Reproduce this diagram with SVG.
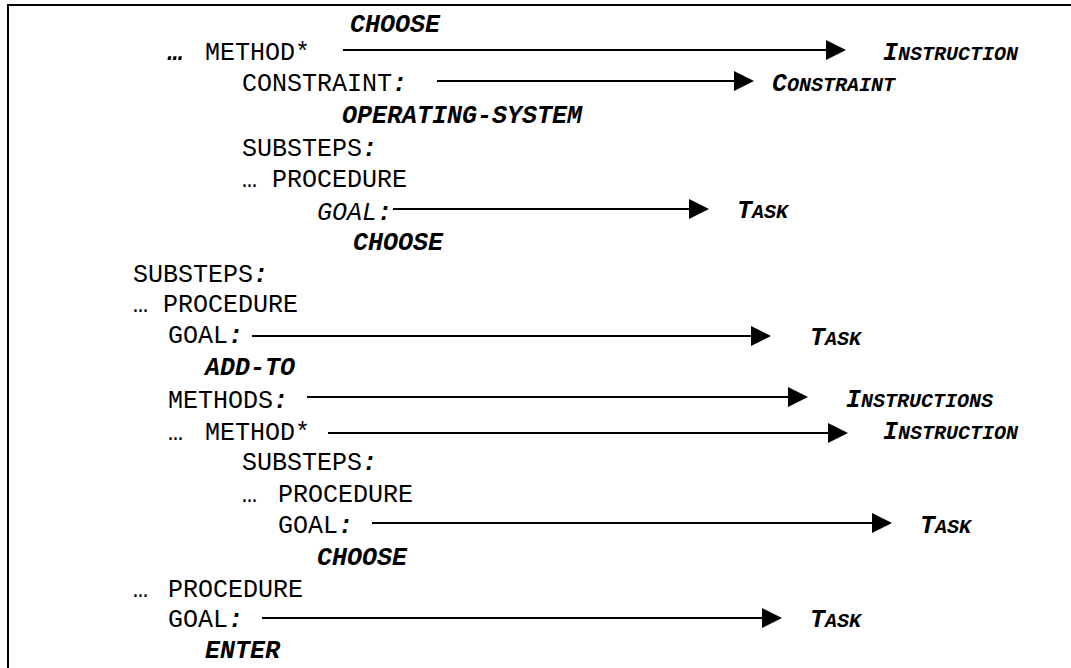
<svg xmlns="http://www.w3.org/2000/svg" width="1071" height="668" viewBox="0 0 1071 668">
<style>
text{font-family:"Liberation Mono","Courier New",monospace;font-size:25px;fill:#000}
.k{font-weight:bold;font-style:italic}
.i{font-style:italic}
.c{font-weight:bold;font-style:italic}
.sc{font-size:20px}
.ln{stroke:#000;stroke-width:2;fill:none}
</style>
<defs>
<marker id="ah" markerUnits="userSpaceOnUse" markerWidth="20" markerHeight="20" refX="0" refY="10" orient="auto" overflow="visible">
<path d="M0,0 L20,10 L0,20 Z" fill="#000"/>
</marker>
</defs>
<rect width="1071" height="668" fill="#fff"/>
<path d="M8,668 L8,5 L1071,5" class="ln" stroke-width="2.5"/>
<g id="r1"><text class="k" x="350" y="32">CHOOSE</text></g>
<g id="r2"><text class="k" x="168" y="60">…</text><text x="205" y="60">METHOD*</text></g>
<g id="r3"><text x="242" y="91">CONSTRAINT<tspan class="c">:</tspan></text></g>
<g id="r4"><text class="k" x="342" y="123">OPERATING-SYSTEM</text></g>
<g id="r5"><text x="242" y="156">SUBSTEPS<tspan class="c">:</tspan></text></g>
<g id="r6"><text x="242" y="187">… PROCEDURE</text></g>
<g id="r7"><text class="i" x="317" y="220">GOAL<tspan class="c">:</tspan></text></g>
<g id="r8"><text class="k" x="353" y="250">CHOOSE</text></g>
<g id="r9"><text x="133" y="282">SUBSTEPS<tspan class="c">:</tspan></text></g>
<g id="r10"><text x="133" y="312">… PROCEDURE</text></g>
<g id="r11"><text x="168" y="343">GOAL<tspan class="c">:</tspan></text></g>
<g id="r12"><text class="k" x="205" y="375">ADD-TO</text></g>
<g id="r13"><text x="168" y="408">METHODS<tspan class="c">:</tspan></text></g>
<g id="r14"><text x="168" y="440">…</text><text x="205" y="440">METHOD*</text></g>
<g id="r15"><text x="242" y="470">SUBSTEPS<tspan class="c">:</tspan></text></g>
<g id="r16"><text x="242" y="502">…</text><text x="278" y="502">PROCEDURE</text></g>
<g id="r17"><text x="278" y="533">GOAL<tspan class="c">:</tspan></text></g>
<g id="r18"><text class="k" x="317" y="565">CHOOSE</text></g>
<g id="r19"><text x="133" y="597">…</text><text x="168" y="597">PROCEDURE</text></g>
<g id="r20"><text x="168" y="627">GOAL<tspan class="c">:</tspan></text></g>
<g id="r21"><text class="k" x="205" y="658">ENTER</text></g>
<g id="l1"><text class="k" x="883" y="60">I<tspan class="sc">NSTRUCTION</tspan></text></g>
<g id="l2"><text class="k" x="772" y="91">C<tspan class="sc">ONSTRAINT</tspan></text></g>
<g id="l3"><text class="k" x="737" y="218">T<tspan class="sc">ASK</tspan></text></g>
<g id="l4"><text class="k" x="810" y="345">T<tspan class="sc">ASK</tspan></text></g>
<g id="l5"><text class="k" x="846" y="407">I<tspan class="sc">NSTRUCTIONS</tspan></text></g>
<g id="l6"><text class="k" x="883" y="439">I<tspan class="sc">NSTRUCTION</tspan></text></g>
<g id="l7"><text class="k" x="920" y="533">T<tspan class="sc">ASK</tspan></text></g>
<g id="l8"><text class="k" x="810" y="627">T<tspan class="sc">ASK</tspan></text></g>
<g id="connectors">
<line class="ln" x1="343" y1="50" x2="826" y2="50" marker-end="url(#ah)"/>
<line class="ln" x1="437" y1="81" x2="734" y2="81" marker-end="url(#ah)"/>
<line class="ln" x1="393" y1="209" x2="689" y2="209" marker-end="url(#ah)"/>
<line class="ln" x1="252" y1="336" x2="751" y2="336" marker-end="url(#ah)"/>
<line class="ln" x1="307" y1="397" x2="788" y2="397" marker-end="url(#ah)"/>
<line class="ln" x1="328" y1="433" x2="828" y2="433" marker-end="url(#ah)"/>
<line class="ln" x1="372" y1="523" x2="872" y2="523" marker-end="url(#ah)"/>
<line class="ln" x1="262" y1="618" x2="762" y2="618" marker-end="url(#ah)"/>
</g>
</svg>
